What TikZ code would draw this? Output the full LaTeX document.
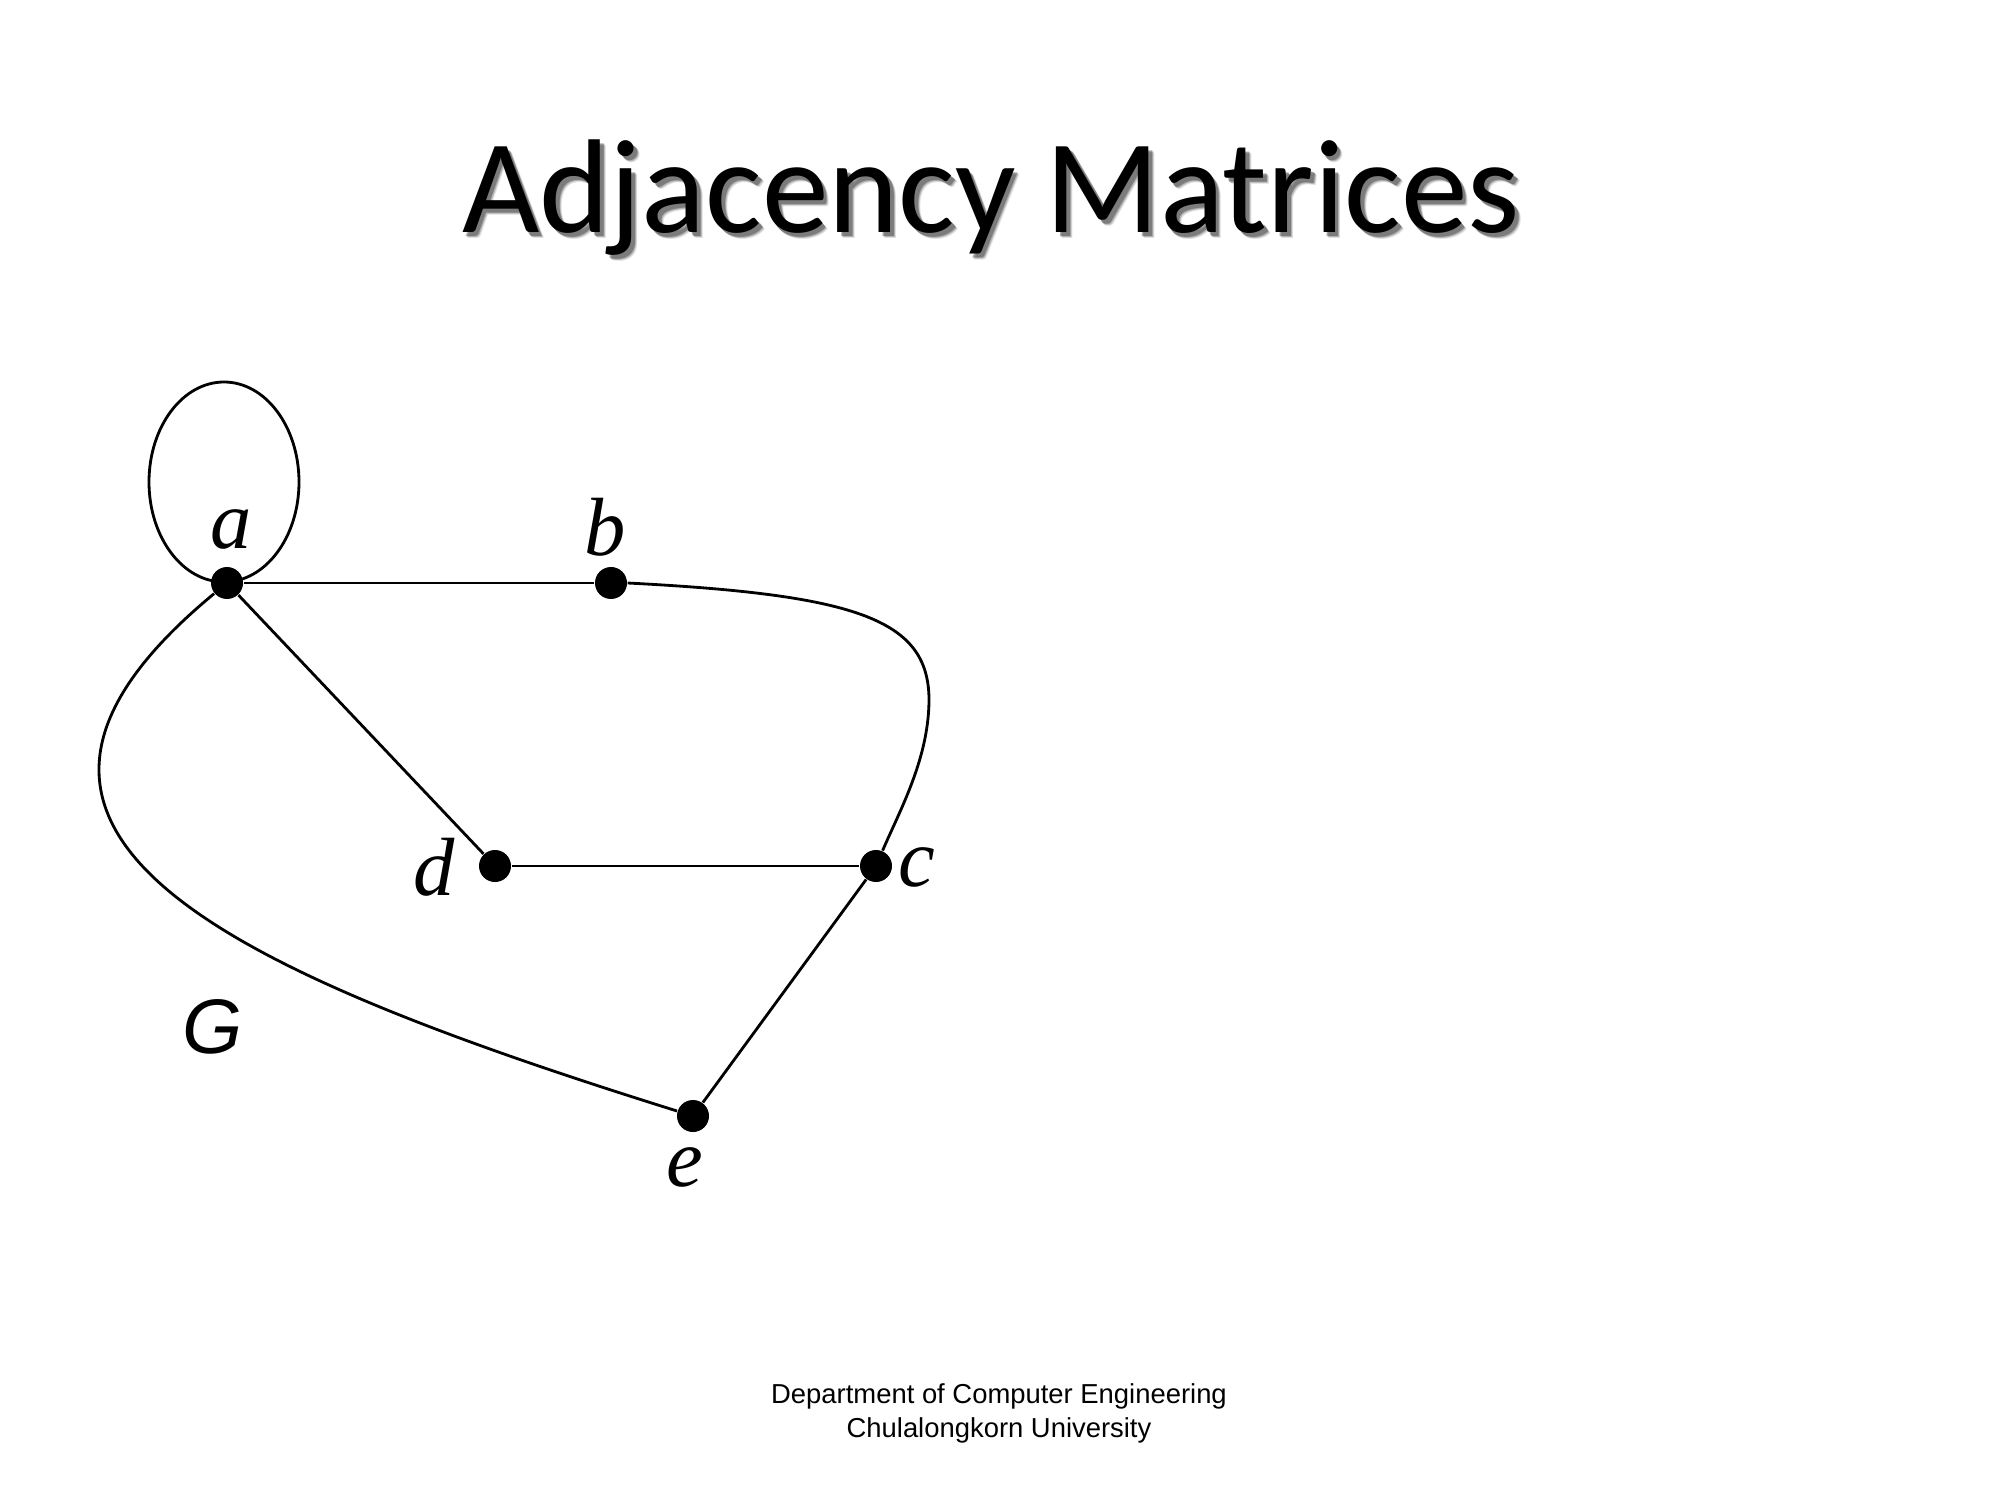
\documentclass[tikz,border=0pt]{standalone}
\usepackage{fontspec}
\setmainfont{Liberation Serif}
\newfontfamily\titlefont{Carlito}
\newfontfamily\helvfont{Liberation Sans}
\begin{document}
\begin{tikzpicture}[
  vertex/.style={circle, fill=black, inner sep=0pt, minimum size=0.32cm},
  vlabel/.style={font=\fontsize{23.5}{28}\selectfont\itshape, inner sep=0pt},
  edge/.style={line width=0.8pt},
  titletext/.style={font=\titlefont\fontsize{38}{46}\selectfont, inner sep=0pt, anchor=base},
  foot/.style={font=\helvfont\fontsize{7.8}{9.5}\selectfont, inner sep=0pt, anchor=base}
]
\useasboundingbox (0,0) rectangle (20,15);
\fill[white] (0,0) rectangle (20,15);

% title with soft drop shadow
\foreach \k/\op in {0.055/0.12,0.045/0.2,0.035/0.3}{
  \node[titletext, text=black, opacity=\op] at (9.91+\k,12.67-\k) {Adjacency Matrices};
}
\node[titletext] (title) at (9.91,12.67) {Adjacency Matrices};

% vertices
\node[vertex] (a) at (2.27,9.17) {};
\node[vertex] (b) at (6.11,9.17) {};
\node[vertex] (d) at (4.95,6.34) {};
\node[vertex] (c) at (8.76,6.34) {};
\node[vertex] (e) at (6.93,3.84) {};

% vertex labels
\node[vlabel] (la) at (2.31,9.71) {a};
\node[vlabel] (lb) at (6.05,9.73) {b};
\node[vlabel] (ld) at (4.34,6.33) {d};
\node[vlabel] (lc) at (9.17,6.33) {c};
\node[vlabel] (le) at (6.85,3.33) {e};
\node[font=\helvfont\fontsize{22}{26}\selectfont\itshape, inner sep=0pt] (G) at (2.13,4.73) {G};

% loop at a
\draw[edge] (2.24,10.18) ellipse [x radius=0.75, y radius=1.0];

% edges
\draw[edge] (a) -- (b);
\draw[edge] (a) -- (d);
\draw[edge] (d) -- (c);
\draw[edge] (c) -- (e);
\coordinate (bc) at (9.29,7.98);
\draw[edge] (b.east) .. controls (8.6,9.05) and (9.3,8.8) .. (bc)
                    .. controls (9.28,7.4) and (9.0,6.9) .. (c);
\draw[edge] (a) .. controls (-0.72,6.7) and (2.1,5.35) .. (e);

% footer
\node[foot] (f1) at (9.99,0.97) {Department of Computer Engineering};
\node[foot] (f2) at (9.99,0.63) {Chulalongkorn University};
\end{tikzpicture}
\end{document}
